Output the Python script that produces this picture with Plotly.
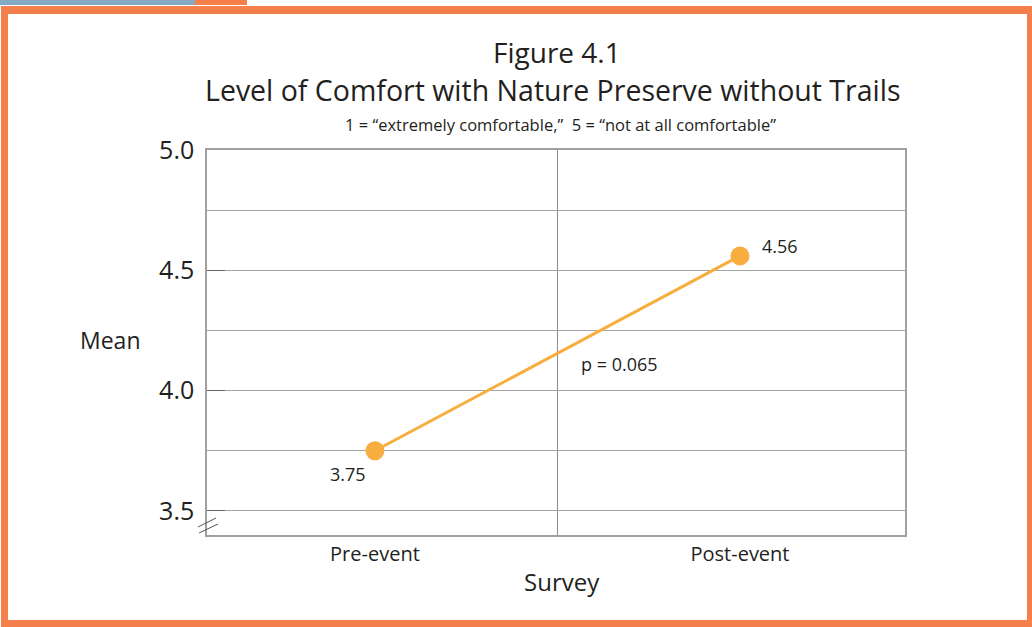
import plotly.graph_objects as go

# ---- data ----
surveys = ["Pre-event", "Post-event"]
survey_pos = [0, 1]
means = [3.75, 4.56]
mean_labels = ["3.75", "4.56"]
y_tickvals = [3.5, 4.0, 4.5, 5.0]
y_ticktext = ["3.5", "4.0", "4.5", "5.0"]
p_text = "p = 0.065"

W, H = 1032, 627
L, R, T, B = 207, 905, 150, 535  # plot area in pixels

def px(xp):
    return (xp - L) / (R - L)

def py(yp):
    return (B - yp) / (B - T)

FONT = "Open Sans"
TXT = "#231F20"
ORANGE_BORDER = "#F47F4B"
LINE_COLOR = "#F8AD3F"
GRID = "#A4A4A4"

fig = go.Figure()
fig.add_trace(go.Scatter(
    x=survey_pos, y=means, mode="lines+markers",
    line=dict(color=LINE_COLOR, width=3),
    marker=dict(color=LINE_COLOR, size=19),
    hoverinfo="skip", showlegend=False,
))

shapes = []
# orange frame
for (x0, y0, x1, y1) in [(1, 6, 8, 627), (1, 6, 1032, 14), (1027, 6, 1032, 627), (1, 620, 1032, 627)]:
    shapes.append(dict(type="rect", xref="paper", yref="paper",
                       x0=px(x0), x1=px(x1), y0=py(y1), y1=py(y0),
                       fillcolor=ORANGE_BORDER, line=dict(width=0), layer="below"))
# top strips
shapes.append(dict(type="rect", xref="paper", yref="paper", x0=px(0), x1=px(195), y0=py(5), y1=py(0),
                   fillcolor="#86A9C3", line=dict(width=0), layer="below"))
shapes.append(dict(type="rect", xref="paper", yref="paper", x0=px(195), x1=px(247), y0=py(5), y1=py(0),
                   fillcolor=ORANGE_BORDER, line=dict(width=0), layer="below"))
# middle vertical divider
shapes.append(dict(type="line", xref="x", yref="paper", x0=0.5, x1=0.5, y0=0, y1=1,
                   line=dict(color="#8A8A8A", width=1), layer="below"))
# axis break marks
for (x0, y0, x1, y1) in [(198, 527, 216, 518), (199, 533, 218, 524)]:
    shapes.append(dict(type="line", xref="paper", yref="paper",
                       x0=px(x0), x1=px(x1), y0=py(y0), y1=py(y1),
                       line=dict(color="#555555", width=1)))

annotations = []
def add_text(text, xp, yp, size, xanchor="center"):
    annotations.append(dict(text=text, xref="paper", yref="paper", x=px(xp), y=py(yp),
                            xanchor=xanchor, yanchor="middle", showarrow=False,
                            font=dict(family=FONT, size=size, color=TXT)))

add_text("Figure 4.1", 557, 52, 28)
add_text("Level of Comfort with Nature Preserve without Trails", 553, 90, 28.5)
add_text("1 = \u201cextremely comfortable,\u201d  5 = \u201cnot at all comfortable\u201d", 560, 124, 16.5)
add_text("Mean", 110, 340, 23)
add_text("Survey", 562, 581, 24)

# value labels (positioned from data)
offsets = [(-27, -23), (40, 10)]
for xv, yv, lab, (dx, dy) in zip(survey_pos, means, mean_labels, offsets):
    annotations.append(dict(text=lab, x=xv, y=yv, xref="x", yref="y", showarrow=False,
                            xshift=dx, yshift=dy,
                            font=dict(family=FONT, size=18, color=TXT)))
annotations.append(dict(text=p_text, x=0.67, y=4.11, xref="x", yref="y", showarrow=False,
                        xanchor="center", font=dict(family=FONT, size=18, color=TXT)))

fig.update_layout(
    width=W, height=H,
    margin=dict(l=L, r=W - R, t=T, b=H - B, pad=0),
    paper_bgcolor="white", plot_bgcolor="white",
    showlegend=False,
    shapes=shapes, annotations=annotations,
    xaxis=dict(range=[-0.46, 1.452], tickvals=survey_pos, ticktext=surveys,
               showgrid=False, zeroline=False, showline=True, mirror=True,
               linecolor="#A0A0A0", linewidth=1.5, ticks="",
               tickfont=dict(family=FONT, size=20, color=TXT), fixedrange=True),
    yaxis=dict(range=[3.4, 5.0], tickvals=y_tickvals, ticktext=y_ticktext,
               showgrid=True, gridcolor=GRID, gridwidth=1, zeroline=False,
               showline=True, mirror=True, linecolor="#A0A0A0", linewidth=1.5,
               ticks="inside", ticklen=18, tickcolor="#666666", tickwidth=1,
               tickfont=dict(family=FONT, size=25, color=TXT), ticklabelstandoff=6,
               minor=dict(dtick=0.25, tick0=3.5, showgrid=True, gridcolor=GRID, gridwidth=1),
               fixedrange=True),
)

fig.write_html("out.html", config={"displayModeBar": False},
               post_script="document.body.style.margin='0';")
